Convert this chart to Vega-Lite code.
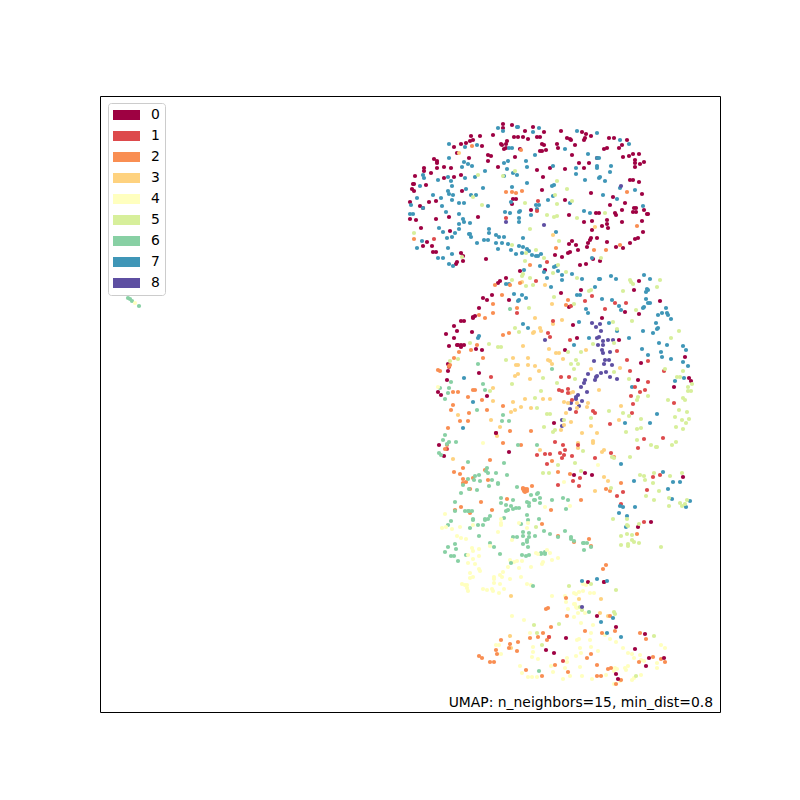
{"$schema":"https://vega.github.io/schema/vega-lite/v6.json","autosize":{"type":"fit","contains":"padding"},"width":800,"height":800,"padding":{"left":100,"top":96,"right":80,"bottom":88},"background":"white","view":{"stroke":"black","strokeWidth":1,"fill":"white"},"layer":[{"data":{"values":[
{"x":403,"y":588,"k":0},{"x":403,"y":584,"k":0},{"x":412,"y":587,"k":0},{"x":433,"y":585,"k":0},{"x":425,"y":581,"k":0},{"x":444,"y":580,"k":0},{"x":461,"y":581,"k":0},{"x":482,"y":580,"k":0},{"x":486,"y":578,"k":0},{"x":491,"y":576,"k":0},{"x":371,"y":576,"k":0},{"x":393,"y":577,"k":0},{"x":380,"y":576,"k":0},{"x":414,"y":575,"k":0},{"x":418,"y":575,"k":0},{"x":423,"y":575,"k":0},{"x":437,"y":575,"k":0},{"x":440,"y":575,"k":0},{"x":407,"y":571,"k":0},{"x":428,"y":573,"k":0},{"x":370,"y":571,"k":0},{"x":373,"y":572,"k":0},{"x":366,"y":569,"k":0},{"x":361,"y":568,"k":0},{"x":382,"y":566,"k":0},{"x":401,"y":568,"k":0},{"x":402,"y":567,"k":0},{"x":442,"y":568,"k":0},{"x":444,"y":567,"k":0},{"x":406,"y":568,"k":0},{"x":406,"y":564,"k":0},{"x":404,"y":563,"k":0},{"x":420,"y":563,"k":0},{"x":442,"y":561,"k":0},{"x":446,"y":562,"k":0},{"x":440,"y":561,"k":0},{"x":457,"y":568,"k":0},{"x":458,"y":564,"k":0},{"x":467,"y":574,"k":0},{"x":470,"y":573,"k":0},{"x":471,"y":572,"k":0},{"x":475,"y":567,"k":0},{"x":485,"y":574,"k":0},{"x":484,"y":572,"k":0},{"x":509,"y":574,"k":0},{"x":514,"y":574,"k":0},{"x":527,"y":572,"k":0},{"x":522,"y":567,"k":0},{"x":519,"y":564,"k":0},{"x":507,"y":564,"k":0},{"x":504,"y":563,"k":0},{"x":354,"y":565,"k":0},{"x":357,"y":559,"k":0},{"x":369,"y":554,"k":0},{"x":388,"y":557,"k":0},{"x":391,"y":556,"k":0},{"x":415,"y":555,"k":0},{"x":388,"y":551,"k":0},{"x":398,"y":545,"k":0},{"x":437,"y":542,"k":0},{"x":450,"y":544,"k":0},{"x":465,"y":543,"k":0},{"x":472,"y":557,"k":0},{"x":479,"y":549,"k":0},{"x":489,"y":549,"k":0},{"x":484,"y":544,"k":0},{"x":497,"y":554,"k":0},{"x":523,"y":555,"k":0},{"x":529,"y":556,"k":0},{"x":533,"y":558,"k":0},{"x":539,"y":558,"k":0},{"x":535,"y":552,"k":0},{"x":535,"y":549,"k":0},{"x":544,"y":550,"k":0},{"x":540,"y":548,"k":0},{"x":535,"y":545,"k":0},{"x":334,"y":553,"k":0},{"x":337,"y":551,"k":0},{"x":337,"y":549,"k":0},{"x":337,"y":544,"k":0},{"x":344,"y":545,"k":0},{"x":351,"y":544,"k":0},{"x":324,"y":544,"k":0},{"x":324,"y":541,"k":0},{"x":315,"y":536,"k":0},{"x":331,"y":539,"k":0},{"x":344,"y":534,"k":0},{"x":354,"y":535,"k":0},{"x":361,"y":537,"k":0},{"x":443,"y":535,"k":0},{"x":530,"y":532,"k":0},{"x":533,"y":532,"k":0},{"x":539,"y":530,"k":0},{"x":313,"y":528,"k":0},{"x":314,"y":528,"k":0},{"x":312,"y":523,"k":0},{"x":314,"y":521,"k":0},{"x":362,"y":521,"k":0},{"x":326,"y":527,"k":0},{"x":442,"y":522,"k":0},{"x":491,"y":519,"k":0},{"x":542,"y":518,"k":0},{"x":513,"y":515,"k":0},{"x":310,"y":510,"k":0},{"x":329,"y":510,"k":0},{"x":336,"y":511,"k":0},{"x":320,"y":506,"k":0},{"x":323,"y":504,"k":0},{"x":413,"y":513,"k":0},{"x":416,"y":513,"k":0},{"x":412,"y":508,"k":0},{"x":465,"y":512,"k":0},{"x":510,"y":507,"k":0},{"x":525,"y":509,"k":0},{"x":431,"y":502,"k":0},{"x":534,"y":504,"k":0},{"x":536,"y":504,"k":0},{"x":533,"y":500,"k":0},{"x":536,"y":500,"k":0},{"x":522,"y":502,"k":0},{"x":496,"y":499,"k":0},{"x":499,"y":499,"k":0},{"x":515,"y":499,"k":0},{"x":516,"y":497,"k":0},{"x":548,"y":498,"k":0},{"x":547,"y":498,"k":0},{"x":544,"y":502,"k":0},{"x":310,"y":493,"k":0},{"x":316,"y":492,"k":0},{"x":336,"y":493,"k":0},{"x":349,"y":495,"k":0},{"x":378,"y":495,"k":0},{"x":469,"y":497,"k":0},{"x":484,"y":490,"k":0},{"x":492,"y":491,"k":0},{"x":507,"y":492,"k":0},{"x":507,"y":488,"k":0},{"x":522,"y":490,"k":0},{"x":542,"y":491,"k":0},{"x":502,"y":486,"k":0},{"x":492,"y":482,"k":0},{"x":321,"y":484,"k":0},{"x":350,"y":481,"k":0},{"x":508,"y":484,"k":0},{"x":543,"y":480,"k":0},{"x":538,"y":474,"k":0},{"x":535,"y":473,"k":0},{"x":491,"y":474,"k":0},{"x":490,"y":472,"k":0},{"x":497,"y":474,"k":0},{"x":507,"y":470,"k":0},{"x":488,"y":469,"k":0},{"x":487,"y":465,"k":0},{"x":530,"y":469,"k":0},{"x":516,"y":465,"k":0},{"x":523,"y":464,"k":0},{"x":323,"y":466,"k":0},{"x":327,"y":470,"k":0},{"x":332,"y":466,"k":0},{"x":333,"y":460,"k":0},{"x":336,"y":460,"k":0},{"x":361,"y":459,"k":0},{"x":363,"y":456,"k":0},{"x":363,"y":451,"k":0},{"x":357,"y":450,"k":0},{"x":356,"y":448,"k":0},{"x":386,"y":453,"k":0},{"x":472,"y":471,"k":0},{"x":469,"y":468,"k":0},{"x":476,"y":467,"k":0},{"x":478,"y":462,"k":0},{"x":470,"y":460,"k":0},{"x":468,"y":459,"k":0},{"x":455,"y":457,"k":0},{"x":462,"y":455,"k":0},{"x":493,"y":453,"k":0},{"x":500,"y":451,"k":0},{"x":480,"y":447,"k":0},{"x":486,"y":448,"k":0},{"x":420,"y":441,"k":0},{"x":445,"y":442,"k":0},
{"x":398,"y":584,"k":7},{"x":417,"y":585,"k":7},{"x":418,"y":585,"k":7},{"x":433,"y":580,"k":7},{"x":439,"y":584,"k":7},{"x":403,"y":581,"k":7},{"x":477,"y":581,"k":7},{"x":497,"y":579,"k":7},{"x":520,"y":572,"k":7},{"x":349,"y":568,"k":7},{"x":365,"y":565,"k":7},{"x":377,"y":567,"k":7},{"x":409,"y":564,"k":7},{"x":412,"y":564,"k":7},{"x":435,"y":557,"k":7},{"x":488,"y":558,"k":7},{"x":465,"y":563,"k":7},{"x":529,"y":568,"k":7},{"x":497,"y":554,"k":7},{"x":499,"y":554,"k":7},{"x":349,"y":554,"k":7},{"x":364,"y":550,"k":7},{"x":368,"y":548,"k":7},{"x":372,"y":546,"k":7},{"x":362,"y":545,"k":7},{"x":408,"y":551,"k":7},{"x":426,"y":551,"k":7},{"x":404,"y":549,"k":7},{"x":407,"y":543,"k":7},{"x":427,"y":545,"k":7},{"x":453,"y":546,"k":7},{"x":476,"y":544,"k":7},{"x":497,"y":546,"k":7},{"x":497,"y":544,"k":7},{"x":511,"y":546,"k":7},{"x":510,"y":540,"k":7},{"x":385,"y":541,"k":7},{"x":413,"y":539,"k":7},{"x":417,"y":537,"k":7},{"x":404,"y":536,"k":7},{"x":323,"y":537,"k":7},{"x":324,"y":534,"k":7},{"x":338,"y":532,"k":7},{"x":348,"y":535,"k":7},{"x":351,"y":531,"k":7},{"x":352,"y":526,"k":7},{"x":365,"y":534,"k":7},{"x":375,"y":535,"k":7},{"x":476,"y":538,"k":7},{"x":485,"y":532,"k":7},{"x":500,"y":535,"k":7},{"x":499,"y":534,"k":7},{"x":505,"y":531,"k":7},{"x":427,"y":529,"k":7},{"x":412,"y":525,"k":7},{"x":452,"y":526,"k":7},{"x":454,"y":527,"k":7},{"x":520,"y":524,"k":7},{"x":535,"y":522,"k":7},{"x":320,"y":526,"k":7},{"x":317,"y":514,"k":7},{"x":333,"y":517,"k":7},{"x":341,"y":514,"k":7},{"x":348,"y":521,"k":7},{"x":349,"y":518,"k":7},{"x":353,"y":517,"k":7},{"x":352,"y":512,"k":7},{"x":366,"y":523,"k":7},{"x":371,"y":517,"k":7},{"x":376,"y":517,"k":7},{"x":383,"y":524,"k":7},{"x":503,"y":517,"k":7},{"x":448,"y":512,"k":7},{"x":453,"y":516,"k":7},{"x":411,"y":510,"k":7},{"x":436,"y":507,"k":7},{"x":439,"y":507,"k":7},{"x":437,"y":503,"k":7},{"x":359,"y":509,"k":7},{"x":364,"y":509,"k":7},{"x":388,"y":506,"k":7},{"x":342,"y":506,"k":7},{"x":311,"y":507,"k":7},{"x":323,"y":504,"k":7},{"x":470,"y":509,"k":7},{"x":517,"y":513,"k":7},{"x":543,"y":506,"k":7},{"x":405,"y":500,"k":7},{"x":410,"y":499,"k":7},{"x":419,"y":500,"k":7},{"x":420,"y":501,"k":7},{"x":431,"y":497,"k":7},{"x":346,"y":500,"k":7},{"x":359,"y":498,"k":7},{"x":363,"y":493,"k":7},{"x":370,"y":489,"k":7},{"x":310,"y":498,"k":7},{"x":313,"y":498,"k":7},{"x":484,"y":501,"k":7},{"x":490,"y":499,"k":7},{"x":419,"y":494,"k":7},{"x":419,"y":490,"k":7},{"x":339,"y":484,"k":7},{"x":359,"y":488,"k":7},{"x":364,"y":490,"k":7},{"x":343,"y":480,"k":7},{"x":359,"y":483,"k":7},{"x":355,"y":479,"k":7},{"x":352,"y":475,"k":7},{"x":347,"y":474,"k":7},{"x":389,"y":483,"k":7},{"x":389,"y":479,"k":7},{"x":369,"y":478,"k":7},{"x":370,"y":478,"k":7},{"x":371,"y":475,"k":7},{"x":396,"y":477,"k":7},{"x":399,"y":475,"k":7},{"x":404,"y":475,"k":7},{"x":423,"y":474,"k":7},{"x":456,"y":480,"k":7},{"x":384,"y":472,"k":7},{"x":388,"y":472,"k":7},{"x":377,"y":469,"k":7},{"x":322,"y":471,"k":7},{"x":317,"y":464,"k":7},{"x":396,"y":469,"k":7},{"x":402,"y":469,"k":7},{"x":408,"y":468,"k":7},{"x":419,"y":466,"k":7},{"x":398,"y":463,"k":7},{"x":411,"y":462,"k":7},{"x":423,"y":465,"k":7},{"x":427,"y":463,"k":7},{"x":429,"y":461,"k":7},{"x":422,"y":459,"k":7},{"x":416,"y":458,"k":7},{"x":432,"y":457,"k":7},{"x":436,"y":456,"k":7},{"x":438,"y":456,"k":7},{"x":441,"y":458,"k":7},{"x":348,"y":464,"k":7},{"x":352,"y":458,"k":7},{"x":338,"y":454,"k":7},{"x":343,"y":454,"k":7},{"x":349,"y":448,"k":7},{"x":353,"y":446,"k":7},{"x":456,"y":446,"k":7},{"x":454,"y":445,"k":7},{"x":458,"y":441,"k":7},{"x":440,"y":446,"k":7},{"x":492,"y":454,"k":7},{"x":424,"y":442,"k":7},{"x":444,"y":440,"k":7},{"x":472,"y":438,"k":7},
{"x":372,"y":566,"k":2},{"x":406,"y":520,"k":2},{"x":412,"y":520,"k":2},{"x":416,"y":519,"k":2},{"x":422,"y":521,"k":2},{"x":527,"y":520,"k":2},{"x":314,"y":473,"k":2},{"x":456,"y":464,"k":2},{"x":494,"y":462,"k":2},{"x":506,"y":462,"k":2},{"x":520,"y":467,"k":2},{"x":537,"y":486,"k":2},{"x":430,"y":447,"k":2},{"x":421,"y":562,"k":2},
{"x":334,"y":473,"k":1},{"x":406,"y":494,"k":1},{"x":437,"y":501,"k":1},{"x":438,"y":511,"k":1},{"x":447,"y":450,"k":1},
{"x":314,"y":479,"k":5},{"x":378,"y":537,"k":5},{"x":403,"y":536,"k":5},{"x":415,"y":541,"k":5},{"x":457,"y":531,"k":5},{"x":467,"y":523,"k":5},{"x":373,"y":515,"k":5},{"x":382,"y":507,"k":5},{"x":425,"y":509,"k":5},{"x":457,"y":508,"k":5},{"x":455,"y":517,"k":5},{"x":472,"y":511,"k":5},{"x":447,"y":497,"k":5},{"x":454,"y":495,"k":5},{"x":457,"y":496,"k":5},{"x":477,"y":494,"k":5},{"x":430,"y":483,"k":5},{"x":412,"y":467,"k":5},{"x":426,"y":459,"k":5},{"x":436,"y":462,"k":5},{"x":425,"y":451,"k":5},{"x":444,"y":454,"k":5},{"x":459,"y":471,"k":5},{"x":501,"y":454,"k":5},{"x":505,"y":499,"k":5},{"x":458,"y":447,"k":5},{"x":423,"y":438,"k":5},{"x":466,"y":440,"k":5},{"x":453,"y":439,"k":5},{"x":362,"y":455,"k":5},
{"x":453,"y":477,"k":3},{"x":495,"y":485,"k":3},{"x":359,"y":559,"k":3},
{"x":406,"y":490,"k":8},{"x":444,"y":487,"k":8},{"x":521,"y":526,"k":8},
{"x":406,"y":434,"k":0},{"x":400,"y":431,"k":0},{"x":398,"y":429,"k":0},{"x":539,"y":431,"k":0},{"x":534,"y":422,"k":0},{"x":481,"y":422,"k":0},{"x":461,"y":419,"k":0},{"x":383,"y":414,"k":0},{"x":387,"y":412,"k":0},{"x":392,"y":417,"k":0},{"x":409,"y":412,"k":0},{"x":560,"y":411,"k":0},{"x":469,"y":405,"k":0},{"x":379,"y":404,"k":0},{"x":375,"y":396,"k":0},{"x":373,"y":395,"k":0},{"x":373,"y":394,"k":0},{"x":364,"y":391,"k":0},{"x":361,"y":391,"k":0},{"x":502,"y":394,"k":0},{"x":525,"y":400,"k":0},{"x":539,"y":398,"k":0},{"x":354,"y":386,"k":0},{"x":357,"y":381,"k":0},{"x":346,"y":378,"k":0},{"x":354,"y":374,"k":0},{"x":372,"y":380,"k":0},{"x":473,"y":387,"k":0},{"x":477,"y":374,"k":0},{"x":465,"y":362,"k":0},{"x":519,"y":372,"k":0},{"x":349,"y":366,"k":0},{"x":358,"y":367,"k":0},{"x":361,"y":367,"k":0},{"x":364,"y":367,"k":0},{"x":361,"y":365,"k":0},{"x":357,"y":367,"k":0},{"x":376,"y":363,"k":0},{"x":382,"y":362,"k":0},{"x":348,"y":348,"k":0},{"x":348,"y":341,"k":0},{"x":379,"y":339,"k":0},{"x":585,"y":355,"k":0},{"x":541,"y":349,"k":0},{"x":589,"y":334,"k":0},{"x":591,"y":331,"k":0},{"x":574,"y":325,"k":0},{"x":347,"y":332,"k":0},{"x":338,"y":320,"k":0},{"x":341,"y":317,"k":0},{"x":538,"y":332,"k":0},{"x":387,"y":316,"k":0},
{"x":462,"y":437,"k":7},{"x":462,"y":432,"k":7},{"x":447,"y":434,"k":7},{"x":482,"y":433,"k":7},{"x":499,"y":433,"k":7},{"x":500,"y":433,"k":7},{"x":511,"y":436,"k":7},{"x":516,"y":433,"k":7},{"x":550,"y":433,"k":7},{"x":544,"y":437,"k":7},{"x":406,"y":428,"k":7},{"x":409,"y":428,"k":7},{"x":451,"y":425,"k":7},{"x":495,"y":425,"k":7},{"x":547,"y":423,"k":7},{"x":548,"y":422,"k":7},{"x":546,"y":420,"k":7},{"x":414,"y":418,"k":7},{"x":422,"y":417,"k":7},{"x":426,"y":414,"k":7},{"x":418,"y":411,"k":7},{"x":419,"y":412,"k":7},{"x":477,"y":417,"k":7},{"x":480,"y":417,"k":7},{"x":502,"y":413,"k":7},{"x":512,"y":412,"k":7},{"x":546,"y":413,"k":7},{"x":548,"y":409,"k":7},{"x":550,"y":409,"k":7},{"x":519,"y":406,"k":7},{"x":521,"y":402,"k":7},{"x":543,"y":404,"k":7},{"x":544,"y":405,"k":7},{"x":566,"y":404,"k":7},{"x":567,"y":399,"k":7},{"x":568,"y":397,"k":7},{"x":562,"y":399,"k":7},{"x":558,"y":397,"k":7},{"x":571,"y":393,"k":7},{"x":486,"y":403,"k":7},{"x":488,"y":399,"k":7},{"x":423,"y":388,"k":7},{"x":428,"y":384,"k":7},{"x":479,"y":390,"k":7},{"x":509,"y":389,"k":7},{"x":517,"y":381,"k":7},{"x":556,"y":389,"k":7},{"x":557,"y":383,"k":7},{"x":558,"y":384,"k":7},{"x":553,"y":379,"k":7},{"x":543,"y":381,"k":7},{"x":529,"y":374,"k":7},{"x":489,"y":374,"k":7},{"x":474,"y":367,"k":7},{"x":379,"y":376,"k":7},{"x":378,"y":374,"k":7},{"x":364,"y":334,"k":7},{"x":373,"y":310,"k":7},{"x":542,"y":363,"k":7},{"x":548,"y":357,"k":7},{"x":561,"y":360,"k":7},{"x":567,"y":367,"k":7},{"x":559,"y":369,"k":7},{"x":562,"y":355,"k":7},{"x":571,"y":353,"k":7},{"x":583,"y":366,"k":7},{"x":586,"y":362,"k":7},{"x":583,"y":350,"k":7},{"x":588,"y":346,"k":7},{"x":584,"y":334,"k":7},{"x":575,"y":331,"k":7},{"x":532,"y":325,"k":7},{"x":557,"y":298,"k":7},{"x":525,"y":289,"k":7},{"x":550,"y":289,"k":7},
{"x":492,"y":389,"k":8},{"x":496,"y":385,"k":8},{"x":500,"y":388,"k":8},{"x":501,"y":381,"k":8},{"x":499,"y":375,"k":8},{"x":497,"y":374,"k":8},{"x":503,"y":371,"k":8},{"x":508,"y":372,"k":8},{"x":513,"y":372,"k":8},{"x":498,"y":367,"k":8},{"x":503,"y":367,"k":8},{"x":502,"y":362,"k":8},{"x":503,"y":359,"k":8},{"x":510,"y":360,"k":8},{"x":494,"y":351,"k":8},{"x":505,"y":352,"k":8},{"x":509,"y":352,"k":8},{"x":504,"y":348,"k":8},{"x":512,"y":347,"k":8},{"x":506,"y":340,"k":8},{"x":501,"y":339,"k":8},{"x":497,"y":336,"k":8},{"x":496,"y":335,"k":8},{"x":495,"y":332,"k":8},{"x":510,"y":335,"k":8},{"x":517,"y":333,"k":8},{"x":488,"y":338,"k":8},{"x":485,"y":332,"k":8},{"x":484,"y":329,"k":8},{"x":481,"y":325,"k":8},{"x":487,"y":320,"k":8},{"x":478,"y":317,"k":8},{"x":476,"y":315,"k":8},{"x":476,"y":313,"k":8},{"x":482,"y":311,"k":8},{"x":471,"y":309,"k":8},{"x":479,"y":306,"k":8},{"x":470,"y":303,"k":8},{"x":445,"y":372,"k":8},{"x":462,"y":292,"k":8},{"x":462,"y":286,"k":8},
{"x":445,"y":427,"k":3},{"x":452,"y":408,"k":3},{"x":435,"y":394,"k":3},{"x":462,"y":392,"k":3},{"x":453,"y":388,"k":3},{"x":440,"y":384,"k":3},{"x":441,"y":381,"k":3},{"x":433,"y":379,"k":3},{"x":434,"y":380,"k":3},{"x":423,"y":366,"k":3},{"x":449,"y":363,"k":3},{"x":456,"y":359,"k":3},{"x":459,"y":359,"k":3},{"x":486,"y":362,"k":3},{"x":413,"y":354,"k":3},{"x":428,"y":354,"k":3},{"x":463,"y":353,"k":3},{"x":418,"y":347,"k":3},{"x":428,"y":347,"k":3},{"x":448,"y":352,"k":3},{"x":450,"y":351,"k":3},{"x":452,"y":348,"k":3},{"x":416,"y":347,"k":3},{"x":435,"y":346,"k":3},{"x":439,"y":341,"k":3},{"x":415,"y":336,"k":3},{"x":418,"y":338,"k":3},{"x":430,"y":333,"k":3},{"x":491,"y":343,"k":3},{"x":520,"y":344,"k":3},{"x":499,"y":322,"k":3},{"x":473,"y":320,"k":3},{"x":470,"y":319,"k":3},{"x":425,"y":313,"k":3},{"x":443,"y":313,"k":3},{"x":450,"y":313,"k":3},{"x":464,"y":310,"k":3},{"x":468,"y":309,"k":3},{"x":477,"y":309,"k":3},{"x":393,"y":324,"k":3},{"x":393,"y":311,"k":3},{"x":413,"y":310,"k":3},{"x":411,"y":300,"k":3},{"x":415,"y":302,"k":3},{"x":421,"y":305,"k":3},{"x":431,"y":304,"k":3},{"x":477,"y":304,"k":3},{"x":487,"y":305,"k":3},{"x":488,"y":309,"k":3},{"x":466,"y":299,"k":3},{"x":391,"y":292,"k":3},{"x":519,"y":292,"k":3},{"x":521,"y":306,"k":3},{"x":358,"y":297,"k":3},{"x":422,"y":430,"k":3},{"x":471,"y":290,"k":3},
{"x":353,"y":253,"k":3},{"x":397,"y":276,"k":3},{"x":400,"y":285,"k":3},{"x":461,"y":282,"k":3},{"x":464,"y":287,"k":3},{"x":482,"y":279,"k":3},{"x":491,"y":286,"k":3},{"x":497,"y":279,"k":3},{"x":493,"y":271,"k":3},{"x":493,"y":269,"k":3},{"x":478,"y":269,"k":3},{"x":478,"y":264,"k":3},{"x":440,"y":262,"k":3},{"x":502,"y":260,"k":3},{"x":504,"y":262,"k":3},{"x":508,"y":231,"k":3},{"x":504,"y":235,"k":3},{"x":495,"y":221,"k":3},
{"x":436,"y":431,"k":1},{"x":492,"y":416,"k":1},{"x":485,"y":411,"k":1},{"x":471,"y":406,"k":1},{"x":453,"y":391,"k":1},{"x":505,"y":403,"k":1},{"x":515,"y":409,"k":1},{"x":526,"y":409,"k":1},{"x":448,"y":379,"k":1},{"x":450,"y":375,"k":1},{"x":470,"y":372,"k":1},{"x":517,"y":361,"k":1},{"x":527,"y":352,"k":1},{"x":530,"y":341,"k":1},{"x":548,"y":351,"k":1},{"x":564,"y":341,"k":1},{"x":548,"y":330,"k":1},{"x":535,"y":325,"k":1},{"x":531,"y":316,"k":1},{"x":533,"y":308,"k":1},{"x":532,"y":299,"k":1},{"x":545,"y":322,"k":1},{"x":540,"y":320,"k":1},{"x":510,"y":288,"k":1},{"x":391,"y":335,"k":1},{"x":461,"y":335,"k":1},{"x":469,"y":335,"k":1},{"x":459,"y":322,"k":1},{"x":468,"y":323,"k":1},{"x":462,"y":321,"k":1},{"x":468,"y":319,"k":1},{"x":472,"y":312,"k":1},{"x":493,"y":301,"k":1},{"x":495,"y":299,"k":1},{"x":476,"y":300,"k":1},{"x":574,"y":309,"k":1},{"x":417,"y":399,"k":1},{"x":349,"y":345,"k":1},
{"x":396,"y":279,"k":1},{"x":455,"y":270,"k":1},{"x":463,"y":267,"k":1},{"x":465,"y":262,"k":1},{"x":464,"y":257,"k":1},{"x":460,"y":259,"k":1},{"x":462,"y":254,"k":1},{"x":450,"y":258,"k":1},{"x":445,"y":258,"k":1},{"x":437,"y":257,"k":1},{"x":447,"y":248,"k":1},{"x":472,"y":256,"k":1},{"x":495,"y":254,"k":1},{"x":511,"y":259,"k":1},{"x":538,"y":264,"k":1},{"x":544,"y":273,"k":1},{"x":563,"y":274,"k":1},{"x":473,"y":231,"k":1},{"x":480,"y":234,"k":1},{"x":479,"y":226,"k":1},{"x":458,"y":227,"k":1},{"x":553,"y":235,"k":1},{"x":560,"y":237,"k":1},{"x":547,"y":222,"k":1},{"x":523,"y":220,"k":1},{"x":517,"y":216,"k":1},{"x":521,"y":208,"k":1},{"x":478,"y":267,"k":1},{"x":347,"y":263,"k":1},{"x":544,"y":190,"k":1},
{"x":395,"y":427,"k":2},{"x":410,"y":427,"k":2},{"x":402,"y":417,"k":2},{"x":393,"y":408,"k":2},{"x":417,"y":404,"k":2},{"x":379,"y":397,"k":2},{"x":385,"y":394,"k":2},{"x":393,"y":399,"k":2},{"x":403,"y":377,"k":2},{"x":409,"y":379,"k":2},{"x":371,"y":362,"k":2},{"x":359,"y":360,"k":2},{"x":383,"y":354,"k":2},{"x":354,"y":354,"k":2},{"x":349,"y":346,"k":2},{"x":350,"y":347,"k":2},{"x":338,"y":342,"k":2},{"x":340,"y":341,"k":2},{"x":373,"y":322,"k":2},{"x":375,"y":322,"k":2},{"x":358,"y":320,"k":2},{"x":353,"y":320,"k":2},{"x":368,"y":315,"k":2},{"x":382,"y":312,"k":2},{"x":369,"y":299,"k":2},{"x":351,"y":302,"k":2},{"x":353,"y":307,"k":2},{"x":403,"y":306,"k":2},{"x":387,"y":302,"k":2},{"x":360,"y":291,"k":2},{"x":368,"y":291,"k":2},{"x":468,"y":412,"k":2},{"x":466,"y":407,"k":2},{"x":377,"y":367,"k":2},{"x":420,"y":429,"k":2},
{"x":348,"y":284,"k":2},{"x":410,"y":281,"k":2},{"x":431,"y":281,"k":2},{"x":403,"y":269,"k":2},{"x":421,"y":267,"k":2},{"x":347,"y":267,"k":2},{"x":345,"y":263,"k":2},{"x":390,"y":252,"k":2},{"x":363,"y":244,"k":2},{"x":354,"y":240,"k":2},{"x":360,"y":238,"k":2},{"x":373,"y":234,"k":2},{"x":388,"y":232,"k":2},{"x":363,"y":233,"k":2},{"x":363,"y":229,"k":2},{"x":366,"y":230,"k":2},{"x":370,"y":223,"k":2},{"x":385,"y":242,"k":2},{"x":432,"y":226,"k":2},{"x":423,"y":224,"k":2},{"x":425,"y":223,"k":2},{"x":427,"y":223,"k":2},{"x":424,"y":221,"k":2},{"x":423,"y":223,"k":2},{"x":425,"y":220,"k":2},{"x":427,"y":221,"k":2},{"x":407,"y":213,"k":2},{"x":381,"y":210,"k":2},{"x":361,"y":205,"k":2},{"x":355,"y":202,"k":2},{"x":370,"y":199,"k":2},{"x":392,"y":202,"k":2},{"x":451,"y":202,"k":2},{"x":442,"y":188,"k":2},{"x":458,"y":240,"k":2},{"x":470,"y":238,"k":2},{"x":452,"y":251,"k":2},{"x":521,"y":229,"k":2},{"x":506,"y":223,"k":2},{"x":510,"y":221,"k":2},{"x":481,"y":212,"k":2},{"x":458,"y":176,"k":2},{"x":474,"y":170,"k":2},{"x":489,"y":173,"k":2},{"x":491,"y":166,"k":2},{"x":537,"y":178,"k":2},{"x":514,"y":255,"k":2},
{"x":339,"y":267,"k":0},{"x":344,"y":256,"k":0},{"x":409,"y":260,"k":0},{"x":474,"y":237,"k":0},{"x":485,"y":239,"k":0},{"x":492,"y":237,"k":0},{"x":583,"y":235,"k":0},{"x":551,"y":190,"k":0},{"x":538,"y":185,"k":0},{"x":454,"y":289,"k":0},{"x":396,"y":279,"k":0},
{"x":363,"y":284,"k":7},{"x":521,"y":248,"k":7},{"x":534,"y":231,"k":7},{"x":573,"y":230,"k":7},{"x":568,"y":223,"k":7},{"x":563,"y":240,"k":7},{"x":580,"y":230,"k":7},{"x":572,"y":213,"k":7},{"x":590,"y":211,"k":7},{"x":586,"y":205,"k":7},{"x":535,"y":205,"k":7},{"x":520,"y":206,"k":7},{"x":523,"y":205,"k":7},{"x":519,"y":199,"k":7},{"x":527,"y":196,"k":7},{"x":526,"y":185,"k":7},
{"x":422,"y":436,"k":5},{"x":412,"y":432,"k":5},{"x":430,"y":434,"k":5},{"x":426,"y":426,"k":5},{"x":433,"y":427,"k":5},{"x":477,"y":434,"k":5},{"x":530,"y":432,"k":5},{"x":531,"y":430,"k":5},{"x":533,"y":428,"k":5},{"x":560,"y":432,"k":5},{"x":557,"y":425,"k":5},{"x":489,"y":421,"k":5},{"x":491,"y":422,"k":5},{"x":523,"y":421,"k":5},{"x":454,"y":415,"k":5},{"x":474,"y":408,"k":5},{"x":429,"y":404,"k":5},{"x":536,"y":402,"k":5},{"x":532,"y":391,"k":5},{"x":513,"y":390,"k":5},{"x":517,"y":383,"k":5},{"x":415,"y":384,"k":5},{"x":419,"y":380,"k":5},{"x":579,"y":381,"k":5},{"x":571,"y":374,"k":5},{"x":389,"y":368,"k":5},{"x":398,"y":365,"k":5},{"x":401,"y":365,"k":5},{"x":370,"y":369,"k":5},{"x":493,"y":368,"k":5},{"x":514,"y":369,"k":5},{"x":481,"y":360,"k":5},{"x":468,"y":360,"k":5},{"x":476,"y":352,"k":5},{"x":471,"y":348,"k":5},{"x":478,"y":348,"k":5},{"x":474,"y":343,"k":5},{"x":514,"y":340,"k":5},{"x":406,"y":352,"k":5},{"x":443,"y":334,"k":5},{"x":457,"y":329,"k":5},{"x":412,"y":328,"k":5},{"x":475,"y":333,"k":5},{"x":529,"y":333,"k":5},{"x":577,"y":335,"k":5},{"x":580,"y":335,"k":5},{"x":583,"y":341,"k":5},{"x":592,"y":328,"k":5},{"x":588,"y":325,"k":5},{"x":588,"y":321,"k":5},{"x":591,"y":321,"k":5},{"x":568,"y":312,"k":5},{"x":583,"y":314,"k":5},{"x":585,"y":312,"k":5},{"x":548,"y":316,"k":5},{"x":538,"y":315,"k":5},{"x":537,"y":312,"k":5},{"x":579,"y":302,"k":5},{"x":587,"y":300,"k":5},{"x":575,"y":295,"k":5},{"x":582,"y":292,"k":5},{"x":589,"y":293,"k":5},{"x":586,"y":289,"k":5},{"x":523,"y":299,"k":5},{"x":529,"y":296,"k":5},{"x":541,"y":293,"k":5},{"x":509,"y":301,"k":5},{"x":491,"y":294,"k":5},{"x":464,"y":292,"k":5},{"x":435,"y":314,"k":5},{"x":437,"y":304,"k":5},{"x":447,"y":298,"k":5},{"x":450,"y":298,"k":5},{"x":441,"y":321,"k":5},{"x":390,"y":321,"k":5},{"x":358,"y":353,"k":5},{"x":350,"y":351,"k":5},{"x":565,"y":343,"k":5},
{"x":410,"y":403,"k":6},{"x":378,"y":348,"k":6},{"x":452,"y":343,"k":6},{"x":351,"y":330,"k":6},{"x":383,"y":328,"k":6},{"x":385,"y":322,"k":6},{"x":349,"y":324,"k":6},{"x":340,"y":324,"k":6},{"x":348,"y":319,"k":6},{"x":345,"y":313,"k":6},{"x":377,"y":302,"k":6},{"x":403,"y":297,"k":6},{"x":402,"y":291,"k":6},{"x":409,"y":291,"k":6},{"x":338,"y":325,"k":4},
{"x":345,"y":277,"k":6},{"x":343,"y":272,"k":6},{"x":349,"y":270,"k":6},{"x":356,"y":270,"k":6},{"x":347,"y":268,"k":6},{"x":339,"y":259,"k":6},{"x":341,"y":257,"k":6},{"x":418,"y":267,"k":6},{"x":437,"y":267,"k":6},{"x":368,"y":250,"k":6},{"x":404,"y":249,"k":6},{"x":387,"y":244,"k":6},{"x":386,"y":241,"k":6},{"x":388,"y":239,"k":6},{"x":375,"y":236,"k":6},{"x":379,"y":237,"k":6},{"x":396,"y":239,"k":6},{"x":407,"y":237,"k":6},{"x":368,"y":233,"k":6},{"x":374,"y":232,"k":6},{"x":380,"y":231,"k":6},{"x":392,"y":232,"k":6},{"x":363,"y":227,"k":6},{"x":389,"y":226,"k":6},{"x":398,"y":229,"k":6},{"x":398,"y":228,"k":6},{"x":361,"y":219,"k":6},{"x":377,"y":222,"k":6},{"x":369,"y":223,"k":6},{"x":417,"y":225,"k":6},{"x":437,"y":218,"k":6},{"x":438,"y":219,"k":6},{"x":431,"y":217,"k":6},{"x":440,"y":214,"k":6},{"x":435,"y":212,"k":6},{"x":440,"y":209,"k":6},{"x":401,"y":214,"k":6},{"x":401,"y":209,"k":6},{"x":406,"y":207,"k":6},{"x":411,"y":206,"k":6},{"x":413,"y":212,"k":6},{"x":427,"y":210,"k":6},{"x":429,"y":209,"k":6},{"x":429,"y":206,"k":6},{"x":419,"y":204,"k":6},{"x":434,"y":212,"k":6},{"x":452,"y":212,"k":6},{"x":463,"y":214,"k":6},{"x":468,"y":212,"k":6},{"x":466,"y":203,"k":6},{"x":355,"y":210,"k":6},{"x":369,"y":201,"k":6},{"x":355,"y":201,"k":6},{"x":365,"y":201,"k":6},{"x":368,"y":201,"k":6},{"x":372,"y":201,"k":6},{"x":385,"y":193,"k":6},{"x":351,"y":191,"k":6},{"x":348,"y":187,"k":6},{"x":388,"y":193,"k":6},{"x":390,"y":196,"k":6},{"x":385,"y":192,"k":6},{"x":383,"y":187,"k":6},{"x":373,"y":193,"k":6},{"x":373,"y":192,"k":6},{"x":370,"y":184,"k":6},{"x":379,"y":176,"k":6},{"x":378,"y":187,"k":6},{"x":406,"y":201,"k":6},{"x":408,"y":202,"k":6},{"x":413,"y":203,"k":6},{"x":416,"y":204,"k":6},{"x":404,"y":194,"k":6},{"x":421,"y":188,"k":6},{"x":428,"y":192,"k":6},{"x":427,"y":197,"k":6},{"x":439,"y":193,"k":6},{"x":444,"y":181,"k":6},{"x":450,"y":178,"k":6},{"x":458,"y":175,"k":6},{"x":465,"y":181,"k":6},{"x":471,"y":175,"k":6},{"x":483,"y":169,"k":6},{"x":474,"y":171,"k":6},{"x":471,"y":173,"k":6},{"x":484,"y":169,"k":6},{"x":491,"y":165,"k":6},{"x":487,"y":169,"k":6},{"x":484,"y":162,"k":6},{"x":390,"y":169,"k":6},{"x":394,"y":165,"k":6},{"x":400,"y":158,"k":6},{"x":348,"y":165,"k":6},{"x":355,"y":168,"k":6},{"x":356,"y":163,"k":6},{"x":345,"y":160,"k":6},{"x":351,"y":156,"k":6},{"x":354,"y":156,"k":6},{"x":366,"y":157,"k":6},{"x":358,"y":151,"k":6},{"x":413,"y":175,"k":6},{"x":417,"y":175,"k":6},{"x":423,"y":180,"k":6},{"x":429,"y":179,"k":6},{"x":435,"y":176,"k":6},{"x":423,"y":176,"k":6},{"x":429,"y":175,"k":6},{"x":427,"y":172,"k":6},{"x":427,"y":170,"k":6},{"x":423,"y":168,"k":6},{"x":428,"y":165,"k":6},{"x":422,"y":157,"k":6},{"x":426,"y":156,"k":6},{"x":429,"y":157,"k":6},{"x":441,"y":159,"k":6},{"x":441,"y":158,"k":6},{"x":445,"y":160,"k":6},{"x":445,"y":158,"k":6},
{"x":444,"y":285,"k":5},{"x":455,"y":282,"k":5},{"x":453,"y":280,"k":5},{"x":526,"y":280,"k":5},{"x":537,"y":283,"k":5},{"x":576,"y":285,"k":5},{"x":583,"y":283,"k":5},{"x":576,"y":270,"k":5},{"x":551,"y":267,"k":5},{"x":556,"y":265,"k":5},{"x":557,"y":265,"k":5},{"x":572,"y":267,"k":5},{"x":483,"y":261,"k":5},{"x":475,"y":249,"k":5},{"x":541,"y":284,"k":5},{"x":537,"y":272,"k":5},{"x":530,"y":255,"k":5},{"x":514,"y":254,"k":5},{"x":458,"y":247,"k":5},{"x":512,"y":255,"k":5},{"x":511,"y":224,"k":5},{"x":481,"y":241,"k":5},{"x":443,"y":239,"k":5},{"x":449,"y":239,"k":5},{"x":540,"y":237,"k":5},{"x":544,"y":236,"k":5},{"x":545,"y":232,"k":5},{"x":554,"y":239,"k":5},{"x":553,"y":229,"k":5},{"x":559,"y":221,"k":5},{"x":570,"y":236,"k":5},{"x":582,"y":239,"k":5},{"x":587,"y":212,"k":5},{"x":546,"y":216,"k":5},{"x":554,"y":212,"k":5},{"x":569,"y":214,"k":5},{"x":569,"y":206,"k":5},{"x":580,"y":209,"k":5},{"x":582,"y":206,"k":5},{"x":585,"y":208,"k":5},{"x":513,"y":193,"k":5},{"x":527,"y":187,"k":5},{"x":539,"y":188,"k":5},{"x":527,"y":193,"k":5},{"x":528,"y":186,"k":5},{"x":436,"y":185,"k":5},{"x":532,"y":172,"k":5},{"x":528,"y":168,"k":5},{"x":527,"y":178,"k":5},{"x":528,"y":166,"k":5},{"x":532,"y":177,"k":5},{"x":534,"y":170,"k":5},{"x":539,"y":169,"k":5},{"x":521,"y":176,"k":5},{"x":521,"y":167,"k":5},{"x":561,"y":165,"k":5},
{"x":383,"y":269,"k":4},{"x":464,"y":230,"k":4},{"x":498,"y":247,"k":4},{"x":445,"y":205,"k":4},{"x":470,"y":206,"k":4},{"x":345,"y":198,"k":4},{"x":342,"y":184,"k":4},{"x":346,"y":185,"k":4},{"x":352,"y":183,"k":4},{"x":360,"y":185,"k":4},{"x":373,"y":187,"k":4},{"x":357,"y":176,"k":4},{"x":361,"y":174,"k":4},{"x":366,"y":173,"k":4},{"x":398,"y":180,"k":4},{"x":401,"y":193,"k":4},{"x":401,"y":189,"k":4},{"x":401,"y":187,"k":4},{"x":419,"y":189,"k":4},{"x":428,"y":189,"k":4},{"x":427,"y":184,"k":4},{"x":412,"y":172,"k":4},{"x":372,"y":164,"k":4},{"x":379,"y":163,"k":4},{"x":373,"y":161,"k":4},{"x":368,"y":157,"k":4},{"x":379,"y":156,"k":4},{"x":373,"y":153,"k":4},{"x":368,"y":149,"k":4},{"x":410,"y":152,"k":4},{"x":414,"y":150,"k":4},{"x":417,"y":151,"k":4},{"x":422,"y":151,"k":4},{"x":390,"y":166,"k":4},{"x":436,"y":159,"k":4},{"x":438,"y":158,"k":4},{"x":447,"y":162,"k":4},{"x":450,"y":159,"k":4},{"x":458,"y":154,"k":4},{"x":452,"y":152,"k":4},{"x":443,"y":150,"k":4},{"x":442,"y":148,"k":4},{"x":375,"y":148,"k":4},{"x":408,"y":145,"k":4},{"x":419,"y":144,"k":4},{"x":431,"y":145,"k":4},
{"x":370,"y":139,"k":4},{"x":379,"y":143,"k":4},{"x":380,"y":141,"k":4},{"x":373,"y":135,"k":4},{"x":400,"y":137,"k":4},{"x":403,"y":140,"k":4},{"x":394,"y":135,"k":4},{"x":421,"y":135,"k":4},{"x":394,"y":133,"k":4},{"x":402,"y":135,"k":4},{"x":410,"y":133,"k":4},{"x":362,"y":128,"k":4},{"x":365,"y":127,"k":4},{"x":367,"y":127,"k":4},{"x":368,"y":121,"k":4},{"x":394,"y":129,"k":4},{"x":400,"y":128,"k":4},{"x":387,"y":122,"k":4},{"x":367,"y":124,"k":4},{"x":370,"y":134,"k":4},{"x":383,"y":123,"k":4},{"x":392,"y":123,"k":4},{"x":393,"y":121,"k":4},{"x":399,"y":119,"k":4},{"x":404,"y":123,"k":4},{"x":427,"y":128,"k":4},{"x":431,"y":127,"k":4},{"x":483,"y":128,"k":4},{"x":486,"y":127,"k":4},{"x":490,"y":119,"k":4},{"x":479,"y":120,"k":4},{"x":476,"y":118,"k":4},{"x":474,"y":119,"k":4},{"x":483,"y":121,"k":4},{"x":494,"y":119,"k":4},{"x":452,"y":116,"k":4},{"x":474,"y":108,"k":4},{"x":468,"y":103,"k":4},{"x":476,"y":105,"k":4},{"x":477,"y":104,"k":4},{"x":475,"y":108,"k":4},{"x":465,"y":116,"k":4},{"x":466,"y":110,"k":4},{"x":478,"y":99,"k":4},{"x":485,"y":99,"k":4},{"x":491,"y":79,"k":4},{"x":474,"y":95,"k":4},{"x":493,"y":87,"k":4},{"x":481,"y":89,"k":4},{"x":505,"y":77,"k":4},{"x":516,"y":70,"k":4},{"x":510,"y":73,"k":4},{"x":491,"y":65,"k":4},{"x":498,"y":61,"k":4},{"x":479,"y":73,"k":4},{"x":477,"y":72,"k":4},{"x":490,"y":72,"k":4},{"x":481,"y":59,"k":4},{"x":480,"y":64,"k":4},{"x":523,"y":64,"k":4},{"x":528,"y":59,"k":4},{"x":541,"y":52,"k":4},{"x":544,"y":51,"k":4},{"x":540,"y":57,"k":4},{"x":534,"y":54,"k":4},{"x":565,"y":64,"k":4},{"x":557,"y":49,"k":4},{"x":557,"y":44,"k":4},{"x":526,"y":42,"k":4},{"x":532,"y":32,"k":4},{"x":534,"y":34,"k":4},{"x":541,"y":37,"k":4},{"x":515,"y":44,"k":4},{"x":517,"y":43,"k":4},{"x":520,"y":31,"k":4},{"x":514,"y":28,"k":4},{"x":525,"y":44,"k":4},{"x":561,"y":67,"k":4},{"x":532,"y":58,"k":4},{"x":528,"y":46,"k":4},{"x":514,"y":41,"k":4},{"x":480,"y":45,"k":4},{"x":465,"y":44,"k":4},{"x":433,"y":65,"k":4},{"x":432,"y":55,"k":4},{"x":463,"y":33,"k":4},{"x":467,"y":50,"k":4},{"x":433,"y":60,"k":4},{"x":420,"y":46,"k":4},{"x":438,"y":53,"k":4},{"x":470,"y":36,"k":4},{"x":476,"y":56,"k":4},{"x":482,"y":36,"k":4},{"x":492,"y":33,"k":4},{"x":506,"y":37,"k":4},{"x":422,"y":39,"k":4},{"x":428,"y":35,"k":4},{"x":432,"y":35,"k":4},{"x":437,"y":35,"k":4},{"x":453,"y":40,"k":4},{"x":451,"y":46,"k":4},{"x":467,"y":54,"k":4},{"x":396,"y":67,"k":4},{"x":399,"y":67,"k":4},{"x":401,"y":58,"k":4},{"x":430,"y":79,"k":4},{"x":424,"y":92,"k":4},{"x":412,"y":96,"k":4},
{"x":479,"y":113,"k":3},{"x":501,"y":113,"k":3},{"x":411,"y":64,"k":3},{"x":411,"y":116,"k":3},{"x":500,"y":99,"k":3},{"x":410,"y":76,"k":3},{"x":508,"y":96,"k":3},
{"x":506,"y":147,"k":2},{"x":503,"y":143,"k":2},{"x":466,"y":114,"k":2},{"x":448,"y":104,"k":2},{"x":446,"y":103,"k":2},{"x":467,"y":96,"k":2},{"x":451,"y":85,"k":2},{"x":401,"y":72,"k":2},{"x":410,"y":68,"k":2},{"x":409,"y":64,"k":2},{"x":418,"y":70,"k":2},{"x":430,"y":74,"k":2},{"x":438,"y":75,"k":2},{"x":443,"y":79,"k":2},{"x":447,"y":72,"k":2},{"x":449,"y":75,"k":2},{"x":396,"y":62,"k":2},{"x":397,"y":58,"k":2},{"x":417,"y":61,"k":2},{"x":379,"y":56,"k":2},{"x":382,"y":54,"k":2},{"x":390,"y":50,"k":2},{"x":394,"y":50,"k":2},{"x":426,"y":42,"k":2},{"x":442,"y":36,"k":2},{"x":468,"y":40,"k":2},{"x":487,"y":54,"k":2},{"x":491,"y":58,"k":2},{"x":497,"y":47,"k":2},{"x":501,"y":36,"k":2},{"x":497,"y":36,"k":2},{"x":508,"y":43,"k":2},{"x":511,"y":44,"k":2},{"x":516,"y":28,"k":2},{"x":521,"y":32,"k":2},{"x":539,"y":50,"k":2},{"x":540,"y":79,"k":2},{"x":546,"y":73,"k":2},{"x":553,"y":55,"k":2},{"x":561,"y":53,"k":2},{"x":565,"y":50,"k":2},{"x":502,"y":79,"k":2},{"x":510,"y":96,"k":2},{"x":515,"y":81,"k":2},{"x":485,"y":81,"k":2},{"x":455,"y":47,"k":2},
{"x":504,"y":130,"k":1},{"x":449,"y":75,"k":1},{"x":463,"y":51,"k":1},
{"x":488,"y":130,"k":0},{"x":504,"y":130,"k":0},{"x":466,"y":74,"k":0},{"x":446,"y":62,"k":0},{"x":454,"y":59,"k":0},{"x":497,"y":96,"k":0},{"x":516,"y":85,"k":0},{"x":545,"y":78,"k":0},{"x":535,"y":63,"k":0},{"x":549,"y":54,"k":0},{"x":546,"y":46,"k":0},{"x":564,"y":54,"k":0},{"x":516,"y":38,"k":0},{"x":518,"y":33,"k":0},
{"x":482,"y":131,"k":7},{"x":497,"y":133,"k":7},{"x":507,"y":131,"k":7},{"x":501,"y":90,"k":7},{"x":513,"y":94,"k":7},{"x":507,"y":79,"k":7},{"x":521,"y":75,"k":7},
{"x":469,"y":126,"k":5},{"x":491,"y":128,"k":5},{"x":516,"y":122,"k":5},{"x":514,"y":100,"k":5},{"x":515,"y":98,"k":5},{"x":480,"y":105,"k":5},{"x":482,"y":102,"k":5},{"x":459,"y":88,"k":5},{"x":434,"y":87,"k":5},{"x":437,"y":79,"k":5},{"x":442,"y":67,"k":5},{"x":554,"y":76,"k":5},{"x":536,"y":36,"k":5},
{"x":411,"y":149,"k":6},{"x":433,"y":126,"k":6},{"x":489,"y":100,"k":6},{"x":439,"y":41,"k":6},{"x":482,"y":105,"k":8},
{"x":28,"y":414,"k":6},{"x":30,"y":413,"k":6},{"x":32,"y":411,"k":6},{"x":35,"y":409,"k":4},{"x":39,"y":406,"k":6}
]},"mark":{"type":"point","filled":true,"size":18,"opacity":1},"encoding":{"x":{"field":"x","type":"quantitative","scale":{"domain":[0,620],"nice":false,"zero":false},"axis":null},"y":{"field":"y","type":"quantitative","scale":{"domain":[0,616],"nice":false,"zero":false},"axis":null},"color":{"field":"k","type":"nominal","scale":{"domain":[0,1,2,3,4,5,6,7,8],"range":["#9e0142","#dd4a4c","#f98e52","#fed27f","#ffffbf","#d7ef9b","#88d0a4","#3f96b7","#5e4fa2"]},"legend":{"title":null,"orient":"none","legendX":8,"legendY":7,"symbolType":"M-1,-0.714H2.857V0.714H-1Z","symbolSize":196,"symbolOpacity":1,"symbolStrokeWidth":0,"labelFont":"DejaVu Sans","labelFontSize":13.9,"labelColor":"black","labelOffset":24,"rowPadding":7,"padding":5,"fillColor":"white","strokeColor":"#cccccc","cornerRadius":3}}}},{"data":{"values":[{"x":613,"y":5,"t":"UMAP: n_neighbors=15, min_dist=0.8"}]},"mark":{"type":"text","align":"right","baseline":"alphabetic","font":"DejaVu Sans","fontSize":13.9,"color":"black"},"encoding":{"x":{"field":"x","type":"quantitative","scale":{"domain":[0,620],"nice":false,"zero":false},"axis":null},"y":{"field":"y","type":"quantitative","scale":{"domain":[0,616],"nice":false,"zero":false},"axis":null},"text":{"field":"t","type":"nominal"}}}]}
